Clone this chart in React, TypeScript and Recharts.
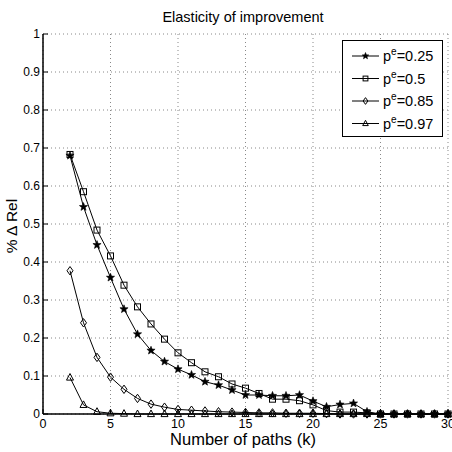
import React from "react";
import { CartesianGrid, Legend, Line, LineChart, XAxis, YAxis } from "recharts";

// Elasticity of improvement — four p^e curves over number of paths k

const paths = [2, 3, 4, 5, 6, 7, 8, 9, 10, 11, 12, 13, 14, 15, 16, 17, 18, 19, 20, 21, 22, 23, 24, 25, 26, 27, 28, 29, 30];
const pe025 = [0.68, 0.545, 0.445, 0.359, 0.276, 0.21, 0.167, 0.138, 0.118, 0.103, 0.085, 0.076, 0.063, 0.05, 0.05, 0.048, 0.048, 0.05, 0.034, 0.019, 0.025, 0.028, 0.006, 0, 0, 0, 0, 0, 0];
const pe05 = [0.683, 0.585, 0.484, 0.416, 0.339, 0.282, 0.237, 0.197, 0.161, 0.135, 0.111, 0.098, 0.079, 0.068, 0.054, 0.039, 0.039, 0.035, 0.024, 0.009, 0.005, 0.005, 0.003, 0, 0, 0, 0, 0, 0];
const pe085 = [0.377, 0.24, 0.149, 0.097, 0.065, 0.041, 0.026, 0.018, 0.012, 0.01, 0.008, 0.006, 0.005, 0.004, 0.003, 0.003, 0.002, 0.002, 0.002, 0.001, 0, 0, 0, 0, 0, 0, 0, 0, 0];
const pe097 = [0.096, 0.024, 0.006, 0.002, 0.001, 0, 0, 0, 0, 0, 0, 0, 0, 0, 0, 0, 0, 0, 0, 0, 0, 0, 0, 0, 0, 0, 0, 0, 0];

const xTicks = [0, 5, 10, 15, 20, 25, 30];
const yTicks = [0, 0.1, 0.2, 0.3, 0.4, 0.5, 0.6, 0.7, 0.8, 0.9, 1];

const seriesDefs = [
  { key: "a", label: "0.25", shape: "star" },
  { key: "b", label: "0.5", shape: "square" },
  { key: "c", label: "0.85", shape: "diamond" },
  { key: "d", label: "0.97", shape: "triangle" },
];

const data = paths.map((k, i) => ({ k, a: pe025[i], b: pe05[i], c: pe085[i], d: pe097[i] }));

const FONT = "'Liberation Sans', Arial, sans-serif";

function starPath(cx: number, cy: number, r: number): string {
  const pts: string[] = [];
  for (let i = 0; i < 10; i++) {
    const rad = i % 2 === 0 ? r : r * 0.42;
    const ang = -Math.PI / 2 + (i * Math.PI) / 5;
    pts.push(`${(cx + rad * Math.cos(ang)).toFixed(2)},${(cy + rad * Math.sin(ang)).toFixed(2)}`);
  }
  return "M" + pts.join("L") + "Z";
}

function Marker({ shape, cx, cy, s = 1 }: { shape: string; cx: number; cy: number; s?: number }) {
  if (shape === "star") return <path d={starPath(cx, cy, 4.3 * s)} fill="#000" stroke="#000" strokeWidth={0.6} />;
  if (shape === "square")
    return <rect x={cx - 3 * s} y={cy - 3 * s} width={6 * s} height={6 * s} fill="none" stroke="#000" strokeWidth={1} />;
  if (shape === "diamond")
    return (
      <path
        d={`M${cx},${cy - 4.2 * s}L${cx + 3 * s},${cy}L${cx},${cy + 4.2 * s}L${cx - 3 * s},${cy}Z`}
        fill="none"
        stroke="#000"
        strokeWidth={1}
      />
    );
  return (
    <path
      d={`M${cx},${cy - 4 * s}L${cx + 3.5 * s},${cy + 2.6 * s}L${cx - 3.5 * s},${cy + 2.6 * s}Z`}
      fill="none"
      stroke="#000"
      strokeWidth={1}
    />
  );
}

const makeDot = (shape: string) => (props: any) => {
  const { cx, cy, index } = props;
  if (cx == null || cy == null) return <g key={`${shape}-${index}`} />;
  return (
    <g key={`${shape}-${index}`}>
      <Marker shape={shape} cx={cx} cy={cy} />
    </g>
  );
};

// tick renderers: inward tick marks like MATLAB
const BottomTick = (props: any) => {
  const { x, y, payload } = props;
  return (
    <g>
      <line x1={x} y1={y} x2={x} y2={y - 5} stroke="#000" />
      <text x={x} y={y + 14} textAnchor="middle" fontSize={12.5} fontFamily={FONT} fill="#000">
        {payload.value}
      </text>
    </g>
  );
};
const TopTick = (props: any) => {
  const { x, y } = props;
  return <line x1={x} y1={y} x2={x} y2={y + 5} stroke="#000" />;
};
const LeftTick = (props: any) => {
  const { x, y, payload } = props;
  return (
    <g>
      <line x1={x} y1={y} x2={x + 5} y2={y} stroke="#000" />
      <text x={x - 3} y={y + 4} textAnchor="end" fontSize={12} fontFamily={FONT} fill="#000">
        {payload.value}
      </text>
    </g>
  );
};
const RightTick = (props: any) => {
  const { x, y } = props;
  return <line x1={x} y1={y} x2={x - 5} y2={y} stroke="#000" />;
};

function LegendBox() {
  return (
    <div style={{ width: 101, height: 97, border: "1.5px solid #000", background: "#fff", boxSizing: "border-box" }}>
      <svg width={98} height={94} style={{ display: "block" }}>
        {seriesDefs.map((s, i) => {
          const cy = 15 + i * 22.5;
          return (
            <g key={s.key}>
              <line x1={9} y1={cy} x2={36} y2={cy} stroke="#000" />
              <Marker shape={s.shape} cx={22.5} cy={cy} s={0.8} />
              <text x={40} y={cy + 5} fontSize={14.5} fontFamily={FONT} fill="#000">
                p
                <tspan dy={-6} fontSize={10}>e</tspan>
                <tspan dy={6}>={s.label}</tspan>
              </text>
            </g>
          );
        })}
      </svg>
    </div>
  );
}

export default function App() {
  return (
    <div style={{ position: "absolute", left: 0, top: 0, width: 452, height: 452, background: "#fff" }}>
      <LineChart width={452} height={452} data={data} margin={{ top: 34, right: 4, bottom: 0, left: 0 }}>
        <CartesianGrid stroke="#888" strokeDasharray="1 3" />
        <XAxis
          dataKey="k"
          type="number"
          domain={[0, 30]}
          ticks={xTicks}
          height={38}
          tickSize={0}
          tickMargin={0}
          tickLine={false}
          axisLine={{ stroke: "#000", strokeWidth: 1.5 }}
          tick={BottomTick}
          interval={0}
        />
        <XAxis
          xAxisId="top"
          dataKey="k"
          type="number"
          orientation="top"
          domain={[0, 30]}
          ticks={xTicks}
          height={0}
          tickSize={0}
          tickMargin={0}
          tickLine={false}
          axisLine={{ stroke: "#000", strokeWidth: 1.5 }}
          tick={TopTick}
          interval={0}
        />
        <YAxis
          type="number"
          domain={[0, 1]}
          ticks={yTicks}
          width={43}
          tickSize={0}
          tickMargin={0}
          tickLine={false}
          axisLine={{ stroke: "#000", strokeWidth: 1.5 }}
          tick={LeftTick}
          interval={0}
        />
        <YAxis
          yAxisId="right"
          type="number"
          orientation="right"
          domain={[0, 1]}
          ticks={yTicks}
          width={0}
          tickSize={0}
          tickMargin={0}
          tickLine={false}
          axisLine={{ stroke: "#000", strokeWidth: 1.5 }}
          tick={RightTick}
          interval={0}
        />
        <Legend
          layout="vertical"
          align="center"
          verticalAlign="middle"
          wrapperStyle={{ position: "absolute", top: 40, left: 342, width: 101 }}
          content={() => <LegendBox />}
        />
        {seriesDefs.map((s) => (
          <Line
            key={s.key}
            dataKey={s.key}
            type="linear"
            stroke="#000"
            strokeWidth={1}
            dot={makeDot(s.shape)}
            activeDot={false}
            isAnimationActive={false}
          />
        ))}
        <text x={243} y={22} textAnchor="middle" fontSize={14.5} fontFamily={FONT} fill="#000">
          Elasticity of improvement
        </text>
        <text x={243} y={445} textAnchor="middle" fontSize={16.5} fontFamily={FONT} fill="#000">
          Number of paths (k)
        </text>
        <text
          x={17}
          y={226}
          textAnchor="middle"
          fontSize={15.5}
          fontFamily={FONT}
          fill="#000"
          transform="rotate(-90 17 226)"
        >
          % Δ Rel
        </text>
      </LineChart>
    </div>
  );
}
